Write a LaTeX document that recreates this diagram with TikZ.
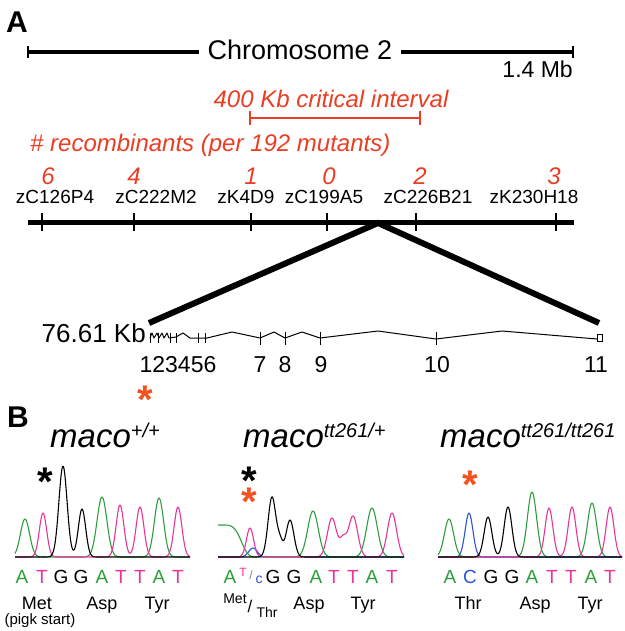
\documentclass[tikz,border=0pt]{standalone}
\usepackage{fontspec}
\setmainfont{Liberation Sans}
\definecolor{redt}{RGB}{234,62,36}
\definecolor{reda}{RGB}{242,82,32}
\definecolor{gc}{RGB}{44,158,62}
\definecolor{pc}{RGB}{232,52,150}
\definecolor{bc}{RGB}{44,82,222}
\newcommand{\myfs}[1]{\fontsize{#1}{#1}\selectfont}
\newcommand{\macot}[1]{{\myfs{33}\itshape maco}\raisebox{10pt}{\myfs{20}\itshape #1}}
\pgfmathdeclarefunction{pk}{4}{%
  \pgfmathparse{min(abs((#1-#2)/#4),5)}\let\pkv\pgfmathresult
  \pgfmathparse{#3*exp(-\pkv*\pkv)}}
\pgfmathdeclarefunction{pkf}{4}{%
  \pgfmathparse{min(abs((#1-#2)/#4),2.2)}\let\pkv\pgfmathresult
  \pgfmathparse{#3*exp(-\pkv*\pkv*\pkv*\pkv)}}
\tikzset{
  txt/.style={inner sep=0pt, anchor=base},
  rtxt/.style={txt, text=redt, font=\myfs{24}\itshape},
  mk/.style={txt, font=\myfs{19}},
  exn/.style={txt, font=\myfs{23}},
  nuc/.style={txt, font=\myfs{19}},
  aa/.style={txt, font=\myfs{18}},
  ast/.style={txt, font=\myfs{40}\bfseries},
  tr/.style={line width=1.1pt, line join=round},
  chrline/.style={line width=4pt},
  tickl/.style={line width=2pt},
}
\begin{document}
\begin{tikzpicture}[x=1pt,y=-1pt]
\useasboundingbox (0,0) rectangle (624,631);
% ---------- Panel A ----------
\node[anchor=base west, inner sep=0pt, font=\myfs{30}\bfseries] (panA) at (6,33) {A};
\node[txt, font=\myfs{27}, inner xsep=9pt] (chrtxt) at (300,60) {Chromosome 2};
\coordinate (chrL) at (28,52);
\coordinate (chrR) at (573,52);
\draw[chrline] (chrL) -- (chrtxt.west |- chrL);
\draw[chrline] (chrtxt.east |- chrR) -- (chrR);
\draw[tickl] ([yshift=-6pt]chrL) -- ([yshift=6pt]chrL);
\draw[tickl] ([yshift=-6pt]chrR) -- ([yshift=6pt]chrR);
\node[anchor=base east, inner sep=0pt, font=\myfs{23}] (mb) at (573,78) {1.4 Mb};
\node[rtxt] (crit) at (331,108) {400 Kb critical interval};
\coordinate (ciL) at (250,118);
\coordinate (ciR) at (420,118);
\draw[redt, line width=2.5pt] (ciL) -- (ciR);
\draw[redt, line width=2pt] ([yshift=-7pt]ciL) -- ([yshift=7pt]ciL);
\draw[redt, line width=2pt] ([yshift=-7pt]ciR) -- ([yshift=7pt]ciR);
\node[rtxt, anchor=base west] (rec) at (30,152) {\# recombinants (per 192 mutants)};
\node[rtxt] (n1) at (48,185) {6};
\node[rtxt] (n2) at (134,185) {4};
\node[rtxt] (n3) at (251,185) {1};
\node[rtxt] (n4) at (329,185) {0};
\node[rtxt] (n5) at (420,185) {2};
\node[rtxt] (n6) at (554,185) {3};
\node[mk] (m1) at (55,204) {zC126P4};
\node[mk] (m2) at (156,204) {zC222M2};
\node[mk] (m3) at (246,204) {zK4D9};
\node[mk] (m4) at (324,204) {zC199A5};
\node[mk] (m5) at (428,204) {zC226B21};
\node[mk] (m6) at (534,204) {zK230H18};
\coordinate (mapL) at (28,222);
\coordinate (mapR) at (574,222);
\draw[line width=5pt] (mapL) -- (mapR);
\foreach \tx in {42,134,251,327,416,556}
  \draw[tickl] (\tx,213) -- (\tx,231);
\coordinate (apex) at (378,223);
\coordinate (zl) at (149,323);
\coordinate (zr) at (599,323);
\draw[line width=6pt] (zl) -- (apex) -- (zr);
\node[anchor=base east, inner sep=0pt, font=\myfs{26}] (kb) at (146,342) {76.61 Kb};
% gene model
\draw[line width=1pt, line join=round] (150,338) -- (152,333) -- (154,338) -- (157,333) -- (159,338) -- (162,333) -- (164,338) -- (167,333) -- (169,338) -- (176,337) -- (183,333) -- (190,338) -- (207,338) -- (232,332) -- (260,338) -- (274,332) -- (285,338) -- (302,332) -- (320,338) -- (378,331) -- (436,339) -- (502,331) -- (597,339);
\foreach \tx in {150,158,170,176,198,205}
  \draw[line width=0.9pt] (\tx,333) -- (\tx,343);
\foreach \tx in {260,285,320,436}
  \draw[line width=1pt] (\tx,332) -- (\tx,345);
\draw[line width=1pt, fill=white] (597,334) rectangle (602,341);
\node[exn] (e1) at (178,372) {123456};
\node[exn] (e7) at (260,372) {7};
\node[exn] (e8) at (285,372) {8};
\node[exn] (e9) at (321,372) {9};
\node[exn] (e10) at (437,372) {10};
\node[exn] (e11) at (596,372) {11};
\node[ast, text=reda] (astA) at (145,413) {*};
% ---------- Panel B ----------
\node[anchor=base west, inner sep=0pt, font=\myfs{30}\bfseries] (panB) at (7,427) {B};
\node[anchor=base west, inner sep=0pt] (t1) at (50,447) {\macot{+/+}};
\node[anchor=base west, inner sep=0pt] (t2) at (243,447) {\macot{tt261/+}};
\node[anchor=base west, inner sep=0pt] (t3) at (440,447) {\macot{tt261/tt261}};
\node[ast] (s1) at (45,495) {*};
\node[ast] (s2) at (249,494) {*};
\node[ast, text=reda] (s2r) at (249,515) {*};
\node[ast, text=reda] (s3) at (470,498) {*};
% chromatogram 1
\draw[tr, gc] plot[domain=15:190, samples=240] (\x, {557 - pk(\x,25,38,6.5) - pk(\x,102,60,7) - pk(\x,159,59,6.5)});
\draw[tr, pc] plot[domain=15:190, samples=240] (\x, {557 - pk(\x,43,44,5.2) - pk(\x,120,52,5.5) - pk(\x,140,50,5.5) - pk(\x,178,50,5.5)});
\draw[tr, black] plot[domain=15:190, samples=240] (\x, {557 - pk(\x,63,91,5.8) - pk(\x,82,48,5.2)});
% chromatogram 2
\draw[tr, bc] plot[domain=218:404, samples=240] (\x, {557 - pk(\x,253,9,6)});
\draw[tr, gc] plot[domain=218:404, samples=240] (\x, {557 - pkf(\x,222,32,21) - pk(\x,313,46,7.5) - pk(\x,372,49,7.5)});
\draw[tr, pc] plot[domain=218:404, samples=240] (\x, {557 - pk(\x,250,29,5) - pk(\x,332,39,6.5) - pk(\x,343,16,4.5) - pk(\x,353,41,6.5) - pk(\x,392,44,6.5)});
\draw[tr, black] plot[domain=218:404, samples=240] (\x, {557 - pk(\x,272,60,5.5) - pk(\x,280,14,4) - pk(\x,290,37,5.5)});
% chromatogram 3
\draw[tr, gc] plot[domain=438:622, samples=240] (\x, {557 - pk(\x,449,38,6.5) - pk(\x,532,65,6.5) - pk(\x,592,54,6.5)});
\draw[tr, bc] plot[domain=438:622, samples=240] (\x, {557 - pk(\x,469,44,5.5)});
\draw[tr, pc] plot[domain=438:622, samples=240] (\x, {557 - pk(\x,549,49,5.5) - pk(\x,572,50,5.5) - pk(\x,610,50,5.5)});
\draw[tr, black] plot[domain=438:622, samples=240] (\x, {557 - pk(\x,488,40,5.5) - pk(\x,508,50,5.5)});
% bases panel 1
\node[nuc, text=gc] (b11) at (22,583) {A};
\node[nuc, text=pc] (b12) at (42,583) {T};
\node[nuc] (b13) at (61,583) {G};
\node[nuc] (b14) at (81,583) {G};
\node[nuc, text=gc] (b15) at (102,583) {A};
\node[nuc, text=pc] (b16) at (121,583) {T};
\node[nuc, text=pc] (b17) at (140,583) {T};
\node[nuc, text=gc] (b18) at (159,583) {A};
\node[nuc, text=pc] (b19) at (178,583) {T};
\node[aa] (a11) at (37,609) {Met};
\node[aa] (a12) at (102,609) {Asp};
\node[aa] (a13) at (157,609) {Tyr};
\node[txt, font=\myfs{15}] (pigk) at (40,624) {(pigk start)};
% bases panel 2
\node[nuc, text=gc] (b21) at (230,583) {A};
\node[txt, font=\myfs{12}, text=pc] (b22t) at (243,576) {T};
\node[txt, font=\myfs{12}, text=gray] (b22s) at (251,579) {/};
\node[txt, font=\myfs{14}, text=bc] (b22c) at (259,583) {c};
\node[nuc] (b23) at (273,583) {G};
\node[nuc] (b24) at (294,583) {G};
\node[nuc, text=gc] (b25) at (316,583) {A};
\node[nuc, text=pc] (b26) at (334,583) {T};
\node[nuc, text=pc] (b27) at (353,583) {T};
\node[nuc, text=gc] (b28) at (372,583) {A};
\node[nuc, text=pc] (b29) at (392,583) {T};
\node[txt, font=\myfs{14}] (a21m) at (235,603) {Met};
\node[txt, font=\myfs{17}] (a21s) at (250,612) {/};
\node[txt, font=\myfs{14}] (a21t) at (267,617) {Thr};
\node[aa] (a22) at (309,609) {Asp};
\node[aa] (a23) at (363,609) {Tyr};
% bases panel 3
\node[nuc, text=gc] (b31) at (450,583) {A};
\node[nuc, text=bc] (b32) at (470,583) {C};
\node[nuc] (b33) at (491,583) {G};
\node[nuc] (b34) at (512,583) {G};
\node[nuc, text=gc] (b35) at (532,583) {A};
\node[nuc, text=pc] (b36) at (552,583) {T};
\node[nuc, text=pc] (b37) at (571,583) {T};
\node[nuc, text=gc] (b38) at (591,583) {A};
\node[nuc, text=pc] (b39) at (610,583) {T};
\node[aa] (a31) at (468,609) {Thr};
\node[aa] (a32) at (535,609) {Asp};
\node[aa] (a33) at (590,609) {Tyr};
\end{tikzpicture}
\end{document}
